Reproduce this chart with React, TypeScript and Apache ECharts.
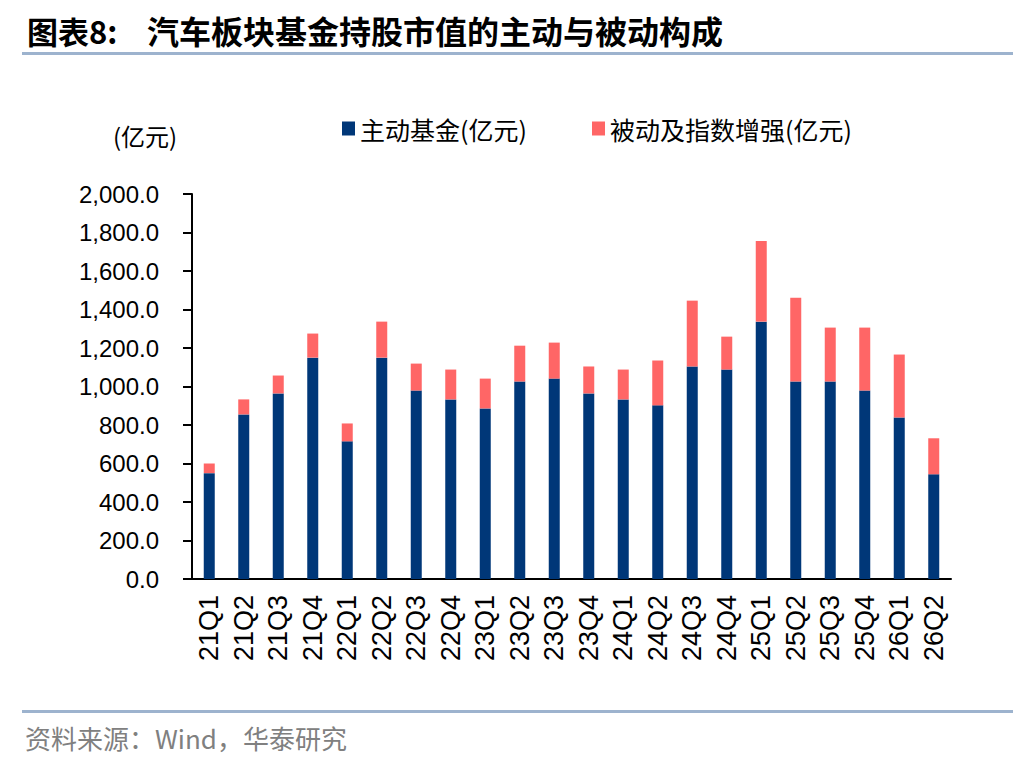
import { useEffect, useRef } from "react";
import * as echarts from "echarts";

const quarters = [
  "21Q1", "21Q2", "21Q3", "21Q4", "22Q1", "22Q2", "22Q3", "22Q4",
  "23Q1", "23Q2", "23Q3", "23Q4", "24Q1", "24Q2", "24Q3", "24Q4",
  "25Q1", "25Q2", "25Q3", "25Q4", "26Q1", "26Q2",
];

// 主动基金 (亿元)
const activeFunds = [
  550, 855, 964, 1150, 715, 1150, 979, 933, 886, 1026, 1041, 964,
  933, 902, 1104, 1088, 1337, 1026, 1026, 979, 839, 544,
];

// 被动及指数增强 (亿元)
const passiveFunds = [
  50, 78, 93, 125, 93, 187, 140, 155, 155, 186, 187, 140,
  155, 233, 342, 171, 419, 435, 280, 327, 327, 187,
];

const BLUE = "#003778";
const RED = "#FF6666";
const LINE = "#9DB3CE";
const latin = "'Liberation Sans', Arial, sans-serif";
const cjk = "'Noto Sans CJK SC', 'Liberation Sans', sans-serif";

const fmt = (v: number) =>
  v.toLocaleString("en-US", { minimumFractionDigits: 1, maximumFractionDigits: 1 });

export default function App() {
  const ref = useRef<HTMLDivElement>(null);

  useEffect(() => {
    if (!ref.current) return;
    const chart = echarts.init(ref.current, undefined, { renderer: "svg" });

    const legendText = { fontFamily: cjk, fontSize: 25, color: "#000" };

    chart.setOption({
      animation: false,
      backgroundColor: "#ffffff",
      grid: { left: 192, right: 85, top: 194, bottom: 181 },
      legend: [
        {
          data: ["主动基金(亿元)"],
          left: 337,
          top: 111,
          icon: "rect",
          itemWidth: 13,
          itemHeight: 14,
          textStyle: legendText,
        },
        {
          data: ["被动及指数增强(亿元)"],
          left: 587,
          top: 111,
          icon: "rect",
          itemWidth: 13,
          itemHeight: 14,
          textStyle: legendText,
        },
      ],
      xAxis: {
        type: "category",
        data: quarters,
        axisLine: { lineStyle: { color: "#000", width: 2 } },
        axisTick: { length: 8, lineStyle: { color: "#000", width: 2 } },
        axisLabel: {
          rotate: 90,
          margin: 16,
          interval: 0,
          fontFamily: latin,
          fontSize: 27,
          color: "#000",
        },
      },
      yAxis: {
        type: "value",
        min: 0,
        max: 2000,
        interval: 200,
        splitLine: { show: false },
        axisLine: { show: true, lineStyle: { color: "#000", width: 2 } },
        axisTick: { show: true, length: 9, lineStyle: { color: "#000", width: 2 } },
        axisLabel: {
          margin: 33,
          formatter: fmt,
          fontFamily: latin,
          fontSize: 24,
          color: "#000",
        },
      },
      series: [
        {
          name: "主动基金(亿元)",
          type: "bar",
          stack: "total",
          barWidth: 11,
          itemStyle: { color: BLUE },
          data: activeFunds,
        },
        {
          name: "被动及指数增强(亿元)",
          type: "bar",
          stack: "total",
          barWidth: 11,
          itemStyle: { color: RED },
          data: passiveFunds,
        },
      ],
      graphic: [
        {
          type: "text",
          left: 27,
          top: 15,
          style: {
            text: "图表8:",
            font: `bold 31px ${cjk}`,
            fill: "#000",
          },
        },
        {
          type: "text",
          left: 147,
          top: 14,
          style: {
            text: "汽车板块基金持股市值的主动与被动构成",
            font: `bold 32px ${cjk}`,
            fill: "#000",
          },
        },
        {
          type: "rect",
          shape: { x: 22, y: 52, width: 991, height: 3 },
          style: { fill: LINE },
        },
        {
          type: "text",
          x: 145,
          y: 135,
          style: {
            text: "(亿元)",
            font: `24px ${cjk}`,
            fill: "#000",
            align: "center",
            verticalAlign: "middle",
          },
        },
        {
          type: "rect",
          shape: { x: 22, y: 710, width: 991, height: 3 },
          style: { fill: LINE },
        },
        {
          type: "text",
          x: 25,
          y: 737,
          style: {
            text: "资料来源：Wind，华泰研究",
            font: `26px ${cjk}`,
            fill: "#808080",
            verticalAlign: "middle",
          },
        },
      ],
    } as echarts.EChartsOption);

    return () => {
      chart.dispose();
    };
  }, []);

  return (
    <div
      ref={ref}
      style={{ position: "fixed", left: 0, top: 0, width: 1036, height: 760 }}
    />
  );
}
